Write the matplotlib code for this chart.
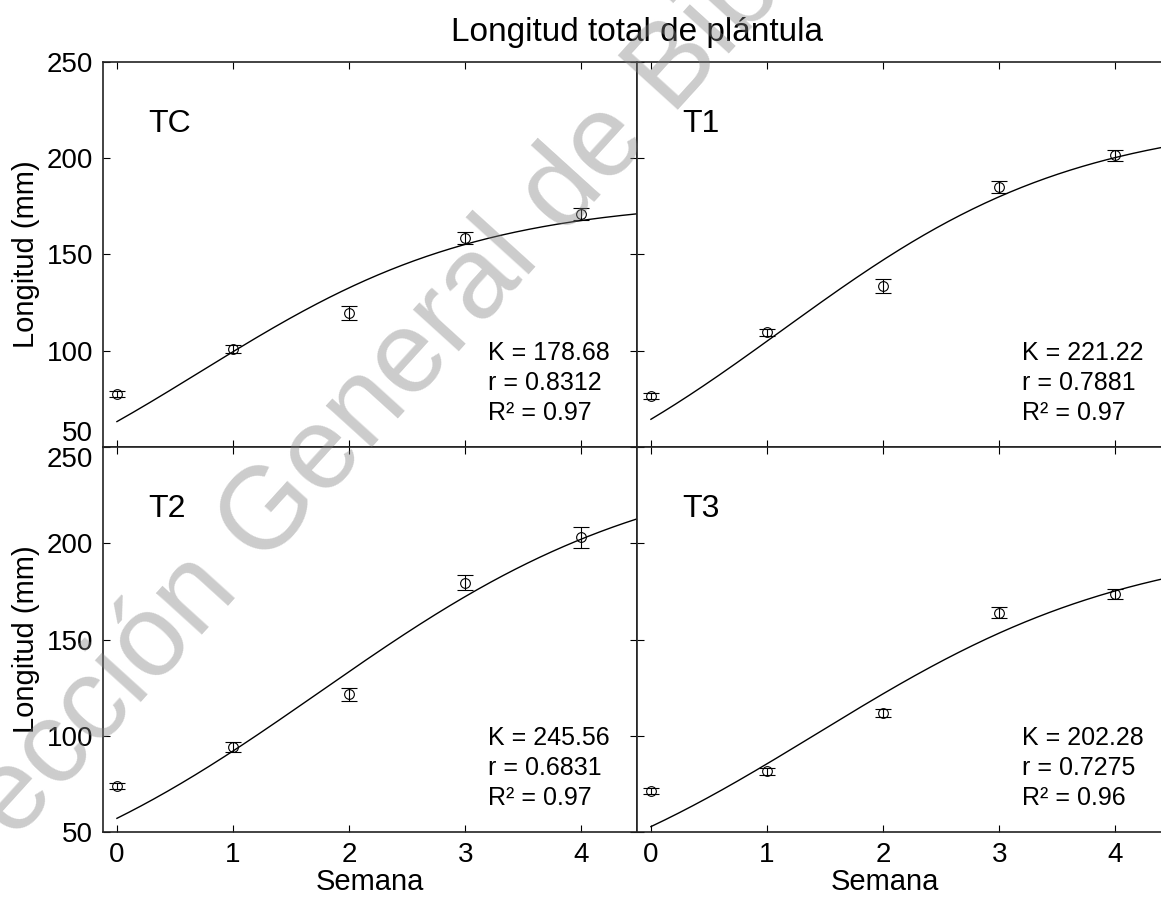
import numpy as np
import matplotlib.pyplot as plt

plt.rcParams['font.family'] = ['Liberation Sans', 'DejaVu Sans']

# Weekly seedling length (mean and error) per treatment
weeks = [0, 1, 2, 3, 4]
tc_mean = [77.5, 101, 119.5, 158.5, 171]
tc_err = [1.5, 2, 3.5, 3.3, 3]
t1_mean = [76.5, 109.5, 133.5, 185, 201.5]
t1_err = [1.5, 2, 3.7, 3, 3]
t2_mean = [73.8, 94, 121.5, 179.5, 203]
t2_err = [1.5, 2.5, 3.5, 3.8, 5.5]
t3_mean = [71.5, 81.5, 112, 164, 173.5]
t3_err = [1.5, 2, 2, 3, 2.5]

# Logistic fit: K (asymptote), r (rate), y0 (value at week 0), R^2
names = ['TC', 'T1', 'T2', 'T3']
K = [178.68, 221.22, 245.56, 202.28]
r = [0.8312, 0.7881, 0.6831, 0.7275]
y0 = [63.2, 64.4, 57.1, 52.8]
r2 = ['0.97', '0.97', '0.97', '0.96']
means = [tc_mean, t1_mean, t2_mean, t3_mean]
errs = [tc_err, t1_err, t2_err, t3_err]

W, H = 1161, 907
fig = plt.figure(figsize=(W / 100, H / 100), dpi=100)


def box(x0, y0_, x1, y1):
    return [x0 / W, 1 - y1 / H, (x1 - x0) / W, (y1 - y0_) / H]


boxes = [box(103, 62, 637, 447), box(637, 62, 1171, 447),
         box(103, 447, 637, 832), box(637, 447, 1171, 832)]

xmin, xmax = -0.12, 4.48
t = np.linspace(0, xmax, 300)

for i in range(4):
    ax = fig.add_axes(boxes[i])
    ax.set_xlim(xmin, xmax)
    ax.set_ylim(50, 250)

    b = K[i] / y0[i] - 1
    fit = K[i] / (1 + b * np.exp(-r[i] * t))
    ax.plot(t, fit, color='black', lw=1.0)
    ax.errorbar(weeks, means[i], yerr=errs[i], fmt='o', ms=7,
                mfc='none', mec='black', mew=0.8, ecolor='black',
                elinewidth=0.8, capsize=5.5, capthick=0.8)

    ax.text(0.27, 218, names[i], fontsize=23, va='center', ha='left')
    ax.text(3.2, 105, 'K = %.2f\nr = %.4f\nR\u00b2 = %s' % (K[i], r[i], r2[i]),
            fontsize=18, va='top', ha='left', linespacing=1.3)

    ax.set_xticks(weeks)
    ax.set_yticks([50, 100, 150, 200, 250])
    ax.tick_params(direction='in', length=5, width=0.8, top=True, right=True,
                   labelsize=20, pad=7)
    for s in ax.spines.values():
        s.set_linewidth(1.2)
        s.set_color('#222222')

    if i % 2 == 0:
        ax.set_ylabel('Longitud (mm)', fontsize=21)
        ax.yaxis.set_label_coords(-0.118, 0.5)
        ticks = ax.yaxis.get_major_ticks()
        # keep the shared 50 / 250 labels apart at the panel joint
        if i == 0:
            ticks[0].label1.set_va('bottom')
        else:
            ticks[-1].label1.set_va('top')
    else:
        ax.tick_params(labelleft=False)
    if i < 2:
        ax.tick_params(labelbottom=False)
    else:
        ax.set_xlabel('Semana', fontsize=21)
        ax.xaxis.set_label_coords(0.5 if i == 2 else 0.464, -0.093)

fig.text(637 / W, 1 - 33 / H, 'Longitud total de plántula', fontsize=24,
         ha='center', va='center')

# library stamp across the figure
fig.text(460 / W, 1 - 305 / H, 'Dirección General de Bibliotecas',
         fontsize=84, color='#808080', alpha=0.4, rotation=47.8,
         rotation_mode='anchor', ha='center', va='center', zorder=10)

fig.savefig('out.png', dpi=100)
